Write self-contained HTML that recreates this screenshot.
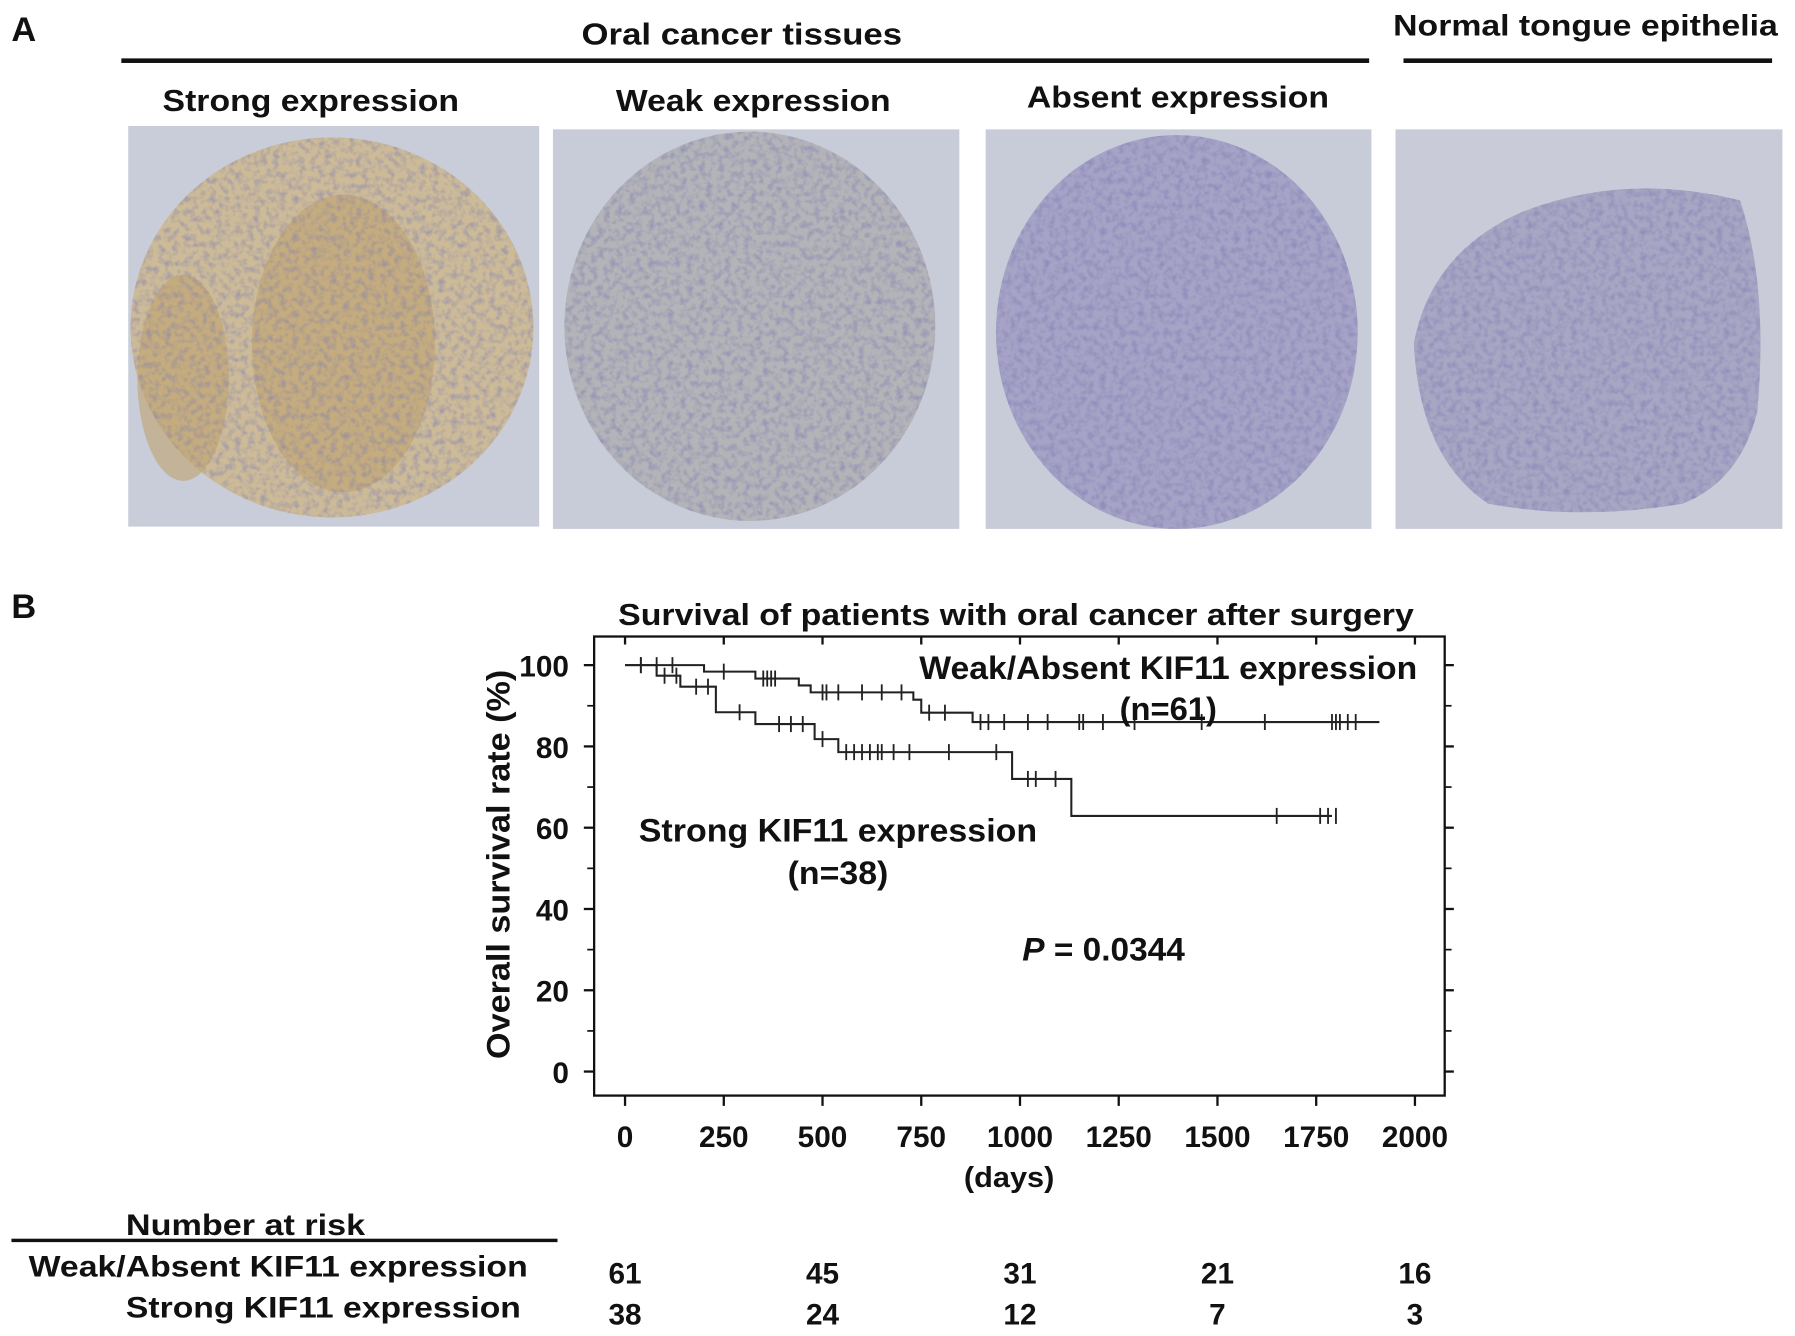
<!DOCTYPE html>
<html><head><meta charset="utf-8"><style>
html,body{margin:0;padding:0;background:#fff}
svg{display:block}
text{font-family:"Liberation Sans",sans-serif;font-weight:bold;fill:#111}
</style></head><body>
<svg id="fig" width="1795" height="1336" viewBox="0 0 1568 1167" preserveAspectRatio="none" xmlns="http://www.w3.org/2000/svg">
<defs>
<filter id="tex" x="0" y="0" width="100%" height="100%">
<feTurbulence type="fractalNoise" baseFrequency="0.18" numOctaves="2" seed="3" result="n"/>
<feColorMatrix in="n" type="matrix" values="0 0 0 0 0.2  0 0 0 0 0.2  0 0 0 0 0.45  0 0 0 -2.2 1.3" result="m"/>
<feComposite in="m" in2="SourceGraphic" operator="in"/>
</filter>
</defs>
<g>
<text x="10" y="36" font-size="30">A</text>
<text x="508" y="39" font-size="27" textLength="280" lengthAdjust="spacingAndGlyphs">Oral cancer  tissues</text>
<rect x="106" y="51" width="1090" height="4" fill="#111"/>
<text x="1217" y="31" font-size="26" textLength="336" lengthAdjust="spacingAndGlyphs">Normal tongue epithelia</text>
<rect x="1226" y="51" width="322" height="4" fill="#111"/>
<text x="142" y="97" font-size="27" textLength="259" lengthAdjust="spacingAndGlyphs">Strong expression</text>
<text x="538" y="97" font-size="27" textLength="240" lengthAdjust="spacingAndGlyphs">Weak expression</text>
<text x="897" y="94" font-size="27" textLength="264" lengthAdjust="spacingAndGlyphs">Absent expression</text>

<g>
<rect x="112" y="110" width="359" height="350" fill="#c9cdd9"/>
<ellipse cx="290" cy="286" rx="176" ry="166" fill="#cdbb98"/>
<ellipse cx="300" cy="300" rx="80" ry="130" fill="#c0a26c" opacity="0.6"/>
<ellipse cx="160" cy="330" rx="40" ry="90" fill="#c0a26c" opacity="0.6"/>
<ellipse cx="290" cy="286" rx="176" ry="166" fill="#fff" filter="url(#tex)" opacity="0.5"/>
</g>
<g>
<rect x="483" y="113" width="355" height="349" fill="#c8cbd8"/>
<ellipse cx="655" cy="285" rx="162" ry="170" fill="#b4b4b8"/>
<ellipse cx="655" cy="285" rx="162" ry="170" fill="#fff" filter="url(#tex)" opacity="0.55"/>
</g>
<g>
<rect x="861" y="113" width="337" height="349" fill="#c8cbd8"/>
<ellipse cx="1028" cy="290" rx="158" ry="172" fill="#a6a3c6"/>
<ellipse cx="1028" cy="290" rx="158" ry="172" fill="#fff" filter="url(#tex)" opacity="0.55"/>
</g>
<g>
<rect x="1219" y="113" width="338" height="349" fill="#c9ccd8"/>
<path d="M1235 300 Q1250 220 1330 185 Q1420 150 1520 175 Q1545 250 1535 360 Q1520 420 1470 440 Q1380 455 1300 440 Q1240 400 1235 300 Z" fill="#a8a6c3"/>
<path d="M1235 300 Q1250 220 1330 185 Q1420 150 1520 175 Q1545 250 1535 360 Q1520 420 1470 440 Q1380 455 1300 440 Q1240 400 1235 300 Z" fill="#fff" filter="url(#tex)" opacity="0.55"/>
</g>
</g>

<g>
<text x="10" y="540" font-size="30">B</text>
<text x="540" y="546" font-size="27" textLength="695" lengthAdjust="spacingAndGlyphs">Survival of patients with oral cancer after surgery</text>
<rect x="519" y="556" width="743" height="401" fill="none" stroke="#111" stroke-width="2"/>
<g id="axes"></g>
<g id="series"></g>
<text transform="translate(445,925) rotate(-90)" font-size="28" textLength="340" lengthAdjust="spacingAndGlyphs">Overall survival rate (%)</text>
<text x="842" y="1037" font-size="25" textLength="79" lengthAdjust="spacingAndGlyphs">(days)</text>
<text x="803" y="593" font-size="28" textLength="435" lengthAdjust="spacingAndGlyphs">Weak/Absent KIF11 expression</text>
<text x="978" y="629" font-size="28" textLength="85" lengthAdjust="spacingAndGlyphs">(n=61)</text>
<text x="558" y="735" font-size="28" textLength="348" lengthAdjust="spacingAndGlyphs">Strong KIF11 expression</text>
<text x="688" y="772" font-size="28" textLength="88" lengthAdjust="spacingAndGlyphs">(n=38)</text>
<text x="893" y="839" font-size="28" textLength="142" lengthAdjust="spacingAndGlyphs"><tspan font-style="italic">P</tspan> = 0.0344</text>

<text x="110" y="1079" font-size="26" textLength="209" lengthAdjust="spacingAndGlyphs">Number at risk</text>
<rect x="10" y="1082" width="477" height="3" fill="#111"/>
<text x="25" y="1115" font-size="26" textLength="436" lengthAdjust="spacingAndGlyphs">Weak/Absent KIF11 expression</text>
<text x="110" y="1151" font-size="26" textLength="345" lengthAdjust="spacingAndGlyphs">Strong KIF11 expression</text>
<g id="risk"></g>
</g>
</svg>
<script>
const xTicks=[0,250,500,750,1000,1250,1500,1750,2000];
const yTicks=[0,20,40,60,80,100];
const weakTimes=[0,200,330,440,470,730,750,880,1910];
const weakSurv=[100,98.4,96.7,95.0,93.3,91.5,88.3,86.0,86.0];
const weakCensor=[40,80,120,250,350,360,370,380,500,510,540,600,650,700,770,810,900,920,960,1020,1070,1150,1160,1210,1290,1460,1620,1790,1800,1810,1830,1850];
const strongTimes=[0,80,140,230,330,480,540,980,1130,1790];
const strongSurv=[100,97.4,94.7,88.4,85.5,81.8,78.6,72.0,62.9,62.9];
const strongCensor=[40,100,130,180,210,290,390,420,450,500,560,580,600,620,640,650,680,720,820,940,1020,1040,1090,1650,1760,1780,1800];
const riskTimes=[0,500,1000,1500,2000];
const riskWeak=[61,45,31,21,16];
const riskStrong=[38,24,12,7,3];

const NS="http://www.w3.org/2000/svg";
const X=d=>546+d*(1236-546)/2000;
const Y=v=>936-v*(936-581)/100;
function mk(tag,attrs,parent){const e=document.createElementNS(NS,tag);for(const k in attrs)e.setAttribute(k,attrs[k]);parent.appendChild(e);return e;}
const axes=document.getElementById('axes');
xTicks.forEach(t=>{
  const x=X(t);
  const a=mk('line',{x1:x,x2:x,y1:957,y2:966,stroke:'#111','stroke-width':2},axes);
  
  
  const b=mk('line',{x1:x,x2:x,y1:556,y2:563,stroke:'#111','stroke-width':2},axes);
  
  
  const l=mk('text',{x:x,y:1002,'font-size':26,'text-anchor':'middle'},axes);
  l.textContent=t;
  
  
});
yTicks.forEach(t=>{
  const y=Y(t);
  const a=mk('line',{x1:510,x2:519,y1:y,y2:y,stroke:'#111','stroke-width':2},axes);
  
  
  const b=mk('line',{x1:1262,x2:1270,y1:y,y2:y,stroke:'#111','stroke-width':2},axes);
  
  
  const l=mk('text',{x:497,y:y+10,'font-size':26,'text-anchor':'end'},axes);
  l.textContent=t;
  
  
});
for(let t=10;t<100;t+=20){const y=Y(t);
  const a=mk('line',{x1:513,x2:519,y1:y,y2:y,stroke:'#111','stroke-width':1.5},axes);
  
  
  const b=mk('line',{x1:1262,x2:1268,y1:y,y2:y,stroke:'#111','stroke-width':1.5},axes);
  
  
}
const ser=document.getElementById('series');
function stepAt(times,surv,t){let v=surv[0];for(let i=0;i<times.length;i++){if(times[i]<=t)v=surv[i];}return v;}
function drawKM(times,surv,cens,name){
  let d='M'+X(times[0])+' '+Y(surv[0]);
  for(let i=1;i<times.length;i++){d+=' H'+X(times[i])+' V'+Y(surv[i]);}
  const p=mk('path',{d:d,fill:'none',stroke:'#222','stroke-width':1.8},ser);
  
  
  cens.forEach(c=>{const y=Y(stepAt(times,surv,c));
    const m=mk('line',{x1:X(c),x2:X(c),y1:y-7,y2:y+7,stroke:'#222','stroke-width':1.6},ser);
    
    
  });
}
drawKM(weakTimes,weakSurv,weakCensor,'weak-absent');
drawKM(strongTimes,strongSurv,strongCensor,'strong');
const risk=document.getElementById('risk');
riskTimes.forEach((t,i)=>{
  const a=mk('text',{x:X(t),y:1121,'font-size':26,'text-anchor':'middle'},risk);
  a.textContent=riskWeak[i];
  
  
  const b=mk('text',{x:X(t),y:1157,'font-size':26,'text-anchor':'middle'},risk);
  b.textContent=riskStrong[i];
  
  
});
</script>
</body></html>
